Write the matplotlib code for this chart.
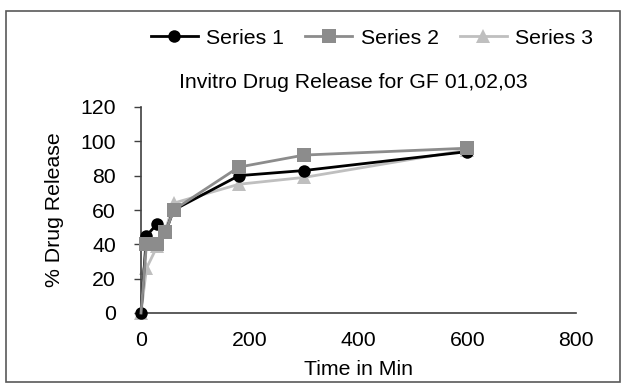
import matplotlib
matplotlib.use("Agg")
import matplotlib.pyplot as plt
from matplotlib.patches import Rectangle

plt.rcParams['font.family'] = ['Liberation Sans', 'DejaVu Sans']

time_min = [0, 10, 30, 45, 60, 180, 300, 600]
series1 = [0, 45, 52, 47, 60, 80, 83, 94]
series2 = [0, 40, 40, 47, 60, 85, 92, 96]
series3 = [0, 26, 39, 48, 64, 75, 79, 95]
names = ["Series 1", "Series 2", "Series 3"]
colors = ["#000000", "#8c8c8c", "#bfbfbf"]
markers = ["o", "s", "^"]
msizes = [9, 10.5, 9.5]
zorders = [3, 4, 2]

FS = 15.3
W, H = 626, 387
fig = plt.figure(figsize=(W / 100, H / 100), dpi=100)
ax = fig.add_axes([141 / W, 1 - 313 / H, (576 - 141) / W, (313 - 107) / H])

n = len(time_min)
for i, (ys, name, c, m, ms, z) in enumerate(zip([series1, series2, series3], names, colors,
                                               markers, msizes, zorders)):
    me = list(range(1, n)) if i == 1 else None
    ax.plot(time_min, ys, color=c, marker=m, markersize=ms, linewidth=2,
            label=name, markeredgewidth=0, solid_joinstyle='round', clip_on=False,
            markevery=me, zorder=z)

ax.set_xlim(0, 800)
ax.set_ylim(0, 120)
ax.set_xticks([0, 200, 400, 600, 800])
ax.set_yticks([0, 20, 40, 60, 80, 100, 120])
for s in ["top", "right"]:
    ax.spines[s].set_visible(False)
for s in ["left", "bottom"]:
    ax.spines[s].set_color("#404040")
    ax.spines[s].set_linewidth(1.2)
ax.tick_params(axis="y", direction="out", length=5, width=1, color="#404040",
               labelsize=FS, pad=13)
ax.tick_params(axis="x", length=0, labelsize=FS, pad=13)

ax.set_xlabel("Time in Min", fontsize=FS, labelpad=7)
ax.set_ylabel("% Drug Release", fontsize=FS, labelpad=12)

fig.text(353 / W, 1 - 82 / H, "Invitro Drug Release for GF 01,02,03",
         ha="center", va="center", fontsize=FS)

handles, labels = ax.get_legend_handles_labels()
leg = fig.legend(handles, labels, loc="center", bbox_to_anchor=(372 / W, 1 - 38 / H), ncol=3,
                 frameon=False, fontsize=FS, handlelength=2.2,
                 columnspacing=1.0, handletextpad=0.4)

fig.patches.append(Rectangle((6 / W, 1 - 382 / H), (620 - 6) / W, (382 - 11) / H,
                             transform=fig.transFigure, fill=False,
                             edgecolor="#595959", linewidth=1.2))

fig.savefig("out.png", dpi=100)
